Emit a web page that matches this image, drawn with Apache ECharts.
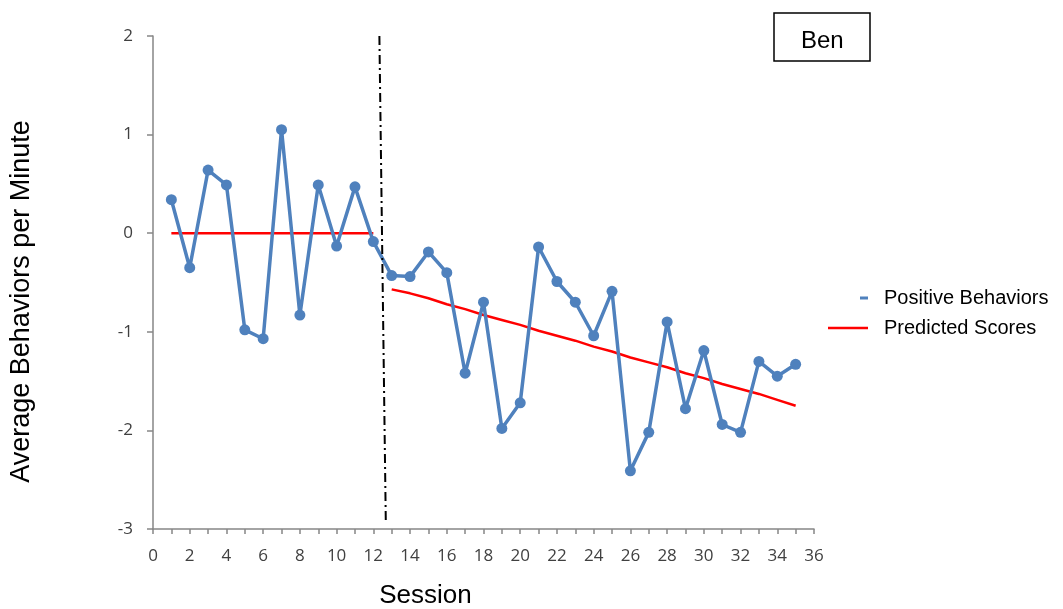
<!DOCTYPE html>
<html>
<head>
<meta charset="utf-8">
<script src="https://cdn.jsdelivr.net/npm/echarts@6/dist/echarts.min.js"></script>
<style>html,body{margin:0;padding:0;background:#fff;}#c{width:1063px;height:609px;}</style>
</head>
<body>
<div id="c"></div>
<script>
var sessions = [1,2,3,4,5,6,7,8,9,10,11,12,13,14,15,16,17,18,19,20,21,22,23,24,25,26,27,28,29,30,31,32,33,34,35];
var positiveBehaviors = [0.34,-0.35,0.64,0.49,-0.98,-1.07,1.05,-0.83,0.49,-0.13,0.47,-0.085,-0.43,-0.44,-0.19,-0.40,-1.42,-0.70,-1.98,-1.72,-0.14,-0.49,-0.70,-1.04,-0.59,-2.41,-2.02,-0.90,-1.78,-1.19,-1.94,-2.02,-1.30,-1.45,-1.33];
var baselineSessions = [1,2,3,4,5,6,7,8,9,10,11,12];
var baselinePredicted = [0,0,0,0,0,0,0,0,0,0,0,0];
var treatmentSessions = [13,14,15,16,17,18,19,20,21,22,23,24,25,26,27,28,29,30,31,32,33,34,35];
var treatmentPredicted = [-0.57,-0.61,-0.66,-0.72,-0.77,-0.83,-0.88,-0.93,-0.99,-1.04,-1.09,-1.15,-1.20,-1.26,-1.31,-1.36,-1.42,-1.47,-1.53,-1.58,-1.63,-1.69,-1.75];
var phaseLineX = [12.33, 12.68];
var phaseLineY = [2, -2.94];
var xTicks = [0,2,4,6,8,10,12,14,16,18,20,22,24,26,28,30,32,34,36];
var yTicks = [-3,-2,-1,0,1,2];

function pairs(xs, ys){ return xs.map(function(x,i){ return [x, ys[i]]; }); }

var chart = echarts.init(document.getElementById('c'));
var axisGray = '#868686';
var labelColor = '#404040';
chart.setOption({
  animation: false,
  backgroundColor: '#ffffff',
  title: {
    text: 'Ben',
    left: 774, top: 13,
    padding: [16, 27, 8, 27],
    borderColor: '#000', borderWidth: 1.5,
    textStyle: { fontFamily: 'Liberation Sans, Arial', fontSize: 24, fontWeight: 'normal', color: '#000' }
  },
  legend: [
    {
      data: [{ name: 'Positive Behaviors', icon: 'rect' }],
      left: 855, top: 283,
      itemWidth: 8, itemHeight: 3,
      textStyle: { fontFamily: 'Liberation Sans, Arial', fontSize: 20, color: '#000', padding: [0, 0, 8, 11] }
    },
    {
      data: [{ name: 'Predicted Scores', icon: 'rect' }],
      left: 823, top: 313,
      itemWidth: 40, itemHeight: 2.5,
      textStyle: { fontFamily: 'Liberation Sans, Arial', fontSize: 20, color: '#000', padding: [0, 0, 0, 11] }
    }
  ],
  grid: { left: 153, right: 249, top: 36, bottom: 80, containLabel: false, outerBoundsMode: 'none' },
  xAxis: {
    type: 'value', min: 0, max: 36, interval: 1,
    name: 'Session', nameLocation: 'middle', nameGap: 54,
    nameTextStyle: { fontFamily: 'Liberation Sans, Arial', fontSize: 26, color: '#000', padding: [0, 116, 0, 0] },
    axisLine: { show: true, onZero: false, lineStyle: { color: axisGray, width: 1.5 } },
    axisTick: { show: true, inside: false, length: 5, lineStyle: { color: axisGray, width: 1.5 } },
    axisLabel: {
      margin: 19, fontFamily: 'Open Sans', fontSize: 17, color: labelColor,
      formatter: function(v){ return xTicks.indexOf(v) >= 0 ? String(v) : ''; }
    },
    splitLine: { show: false }
  },
  yAxis: {
    type: 'value', min: -3, max: 2, interval: 1,
    name: 'Average Behaviors per Minute', nameLocation: 'middle', nameGap: 118,
    nameTextStyle: { fontFamily: 'Liberation Sans, Arial', fontSize: 27, color: '#000', padding: [0, 38, 0, 0] },
    axisLine: { show: true, onZero: false, lineStyle: { color: axisGray, width: 1.5 } },
    axisTick: { show: true, inside: false, length: 6, lineStyle: { color: axisGray, width: 1.5 } },
    axisLabel: {
      margin: 20, fontFamily: 'Open Sans', fontSize: 17, color: labelColor,
      formatter: function(v){ return yTicks.indexOf(v) >= 0 ? String(v) : ''; }
    },
    splitLine: { show: false }
  },
  series: [
    {
      name: 'Predicted Scores', type: 'line',
      data: pairs(baselineSessions, baselinePredicted),
      showSymbol: false, symbol: 'none',
      lineStyle: { color: '#ff0000', width: 2.5 }, itemStyle: { color: '#ff0000' },
      z: 2
    },
    {
      name: 'Predicted Scores', type: 'line',
      data: pairs(treatmentSessions, treatmentPredicted),
      showSymbol: false, symbol: 'none',
      lineStyle: { color: '#ff0000', width: 2.5 }, itemStyle: { color: '#ff0000' },
      z: 2
    },
    {
      name: 'Positive Behaviors', type: 'line',
      data: pairs(sessions, positiveBehaviors),
      symbol: 'circle', symbolSize: 11,
      lineStyle: { color: '#4f81bd', width: 3.5 },
      itemStyle: { color: '#4f81bd' },
      z: 3
    },
    {
      name: 'phase', type: 'line',
      data: pairs(phaseLineX, phaseLineY),
      symbol: 'none',
      lineStyle: { color: '#000', width: 2, type: [9, 4, 2, 4] },
      z: 4
    }
  ]
});
</script>
</body>
</html>
